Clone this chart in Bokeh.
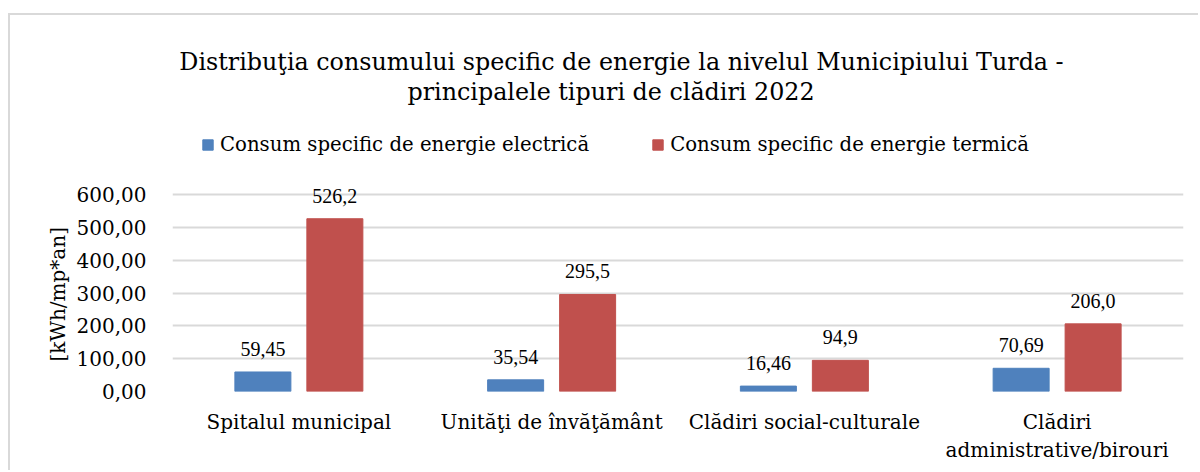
from bokeh.plotting import figure
from bokeh.models import ColumnDataSource, FactorRange, Range1d, Label, LabelSet, Legend, LegendItem, FixedTicker, CustomJSTickFormatter, Title
from bokeh.transform import dodge
from bokeh.embed import file_html
from bokeh.resources import INLINE

# ---- data ----
categories = ["Spitalul municipal", "Unităţi de învăţământ", "Clădiri social-culturale",
              "Clădiri\nadministrative/birouri"]
electric = [59.45, 35.54, 16.46, 70.69]
thermal = [526.2, 295.5, 94.9, 206.0]
series_names = ["Consum specific de energie electrică", "Consum specific de energie termică"]
y_ticks = [0, 100, 200, 300, 400, 500, 600]
title_lines = ["Distribuţia consumului specific de energie la nivelul Municipiului Turda -",
               "principalele tipuri de clădiri 2022"]
y_label = "[kWh/mp*an]"

BLUE = "#4F81BD"
RED = "#C0504D"
GRID = "#d9d9d9"
FONT = "DejaVu Serif"

src = ColumnDataSource(dict(
    cat=categories,
    el=electric,
    th=thermal,
    el_lab=[f"{v:.2f}".replace(".", ",") for v in electric],
    th_lab=[f"{v:.1f}".replace(".", ",") for v in thermal],
))

p = figure(
    width=1190, height=457,
    x_range=FactorRange(factors=categories, range_padding=0),
    y_range=Range1d(0, 1130),
    output_backend="svg", toolbar_location=None,
    min_border_left=162, min_border_right=17, min_border_top=5, min_border_bottom=81,
    styles={"margin-left": "8px", "margin-top": "13px",
            "border-left": f"2px solid {GRID}", "border-top": f"2px solid {GRID}"},
)
p.outline_line_color = None

off = 0.1424
bw = 0.2216
r1 = p.vbar(x=dodge("cat", -off, range=p.x_range), top="el", width=bw, source=src,
            fill_color=BLUE, line_color=BLUE)
r2 = p.vbar(x=dodge("cat", off, range=p.x_range), top="th", width=bw, source=src,
            fill_color=RED, line_color=RED)

for field, top, o in (("el_lab", "el", -off), ("th_lab", "th", off)):
    p.add_layout(LabelSet(x=dodge("cat", o, range=p.x_range), y=top, text=field, source=src,
                          text_align="center", text_baseline="alphabetic", y_offset=16,
                          text_font=FONT, text_font_size="20px", text_color="#000000"))

# axes
p.yaxis.ticker = FixedTicker(ticks=y_ticks)
p.yaxis.formatter = CustomJSTickFormatter(code="return tick.toFixed(2).replace('.', ',');")
p.yaxis.axis_line_color = None
p.yaxis.major_tick_line_color = None
p.yaxis.minor_tick_line_color = None
p.yaxis.major_label_standoff = 20
p.yaxis.major_label_text_font = FONT
p.yaxis.major_label_text_font_size = "20px"
p.yaxis.major_label_text_color = "#000000"

p.xaxis.axis_line_color = None
p.xaxis.major_tick_line_color = None
p.xaxis.minor_tick_line_color = None
p.xaxis.major_label_standoff = 12
p.xaxis.major_label_text_font = FONT
p.xaxis.major_label_text_font_size = "20px"
p.xaxis.major_label_text_color = "#000000"
p.xaxis.major_label_orientation = "horizontal"

p.xgrid.grid_line_color = None
p.ygrid.grid_line_color = GRID
p.ygrid.grid_line_width = 2

# y axis title, placed beside the axis
p.add_layout(Title(text=y_label, align="left", offset=30, standoff=8,
                   text_font=FONT, text_font_size="20px", text_font_style="normal",
                   text_color="#000000"), "left")

legend = Legend(items=[LegendItem(label=series_names[0], renderers=[r1]),
                       LegendItem(label=series_names[1], renderers=[r2])],
                location=(29, 235.5), orientation="horizontal",
                glyph_width=13, glyph_height=13, label_standoff=6, spacing=62,
                padding=0, margin=0, border_line_color=None, background_fill_alpha=0,
                label_text_font=FONT, label_text_font_size="19.7px", label_text_color="#000000",
                label_height=20)
p.add_layout(legend, "center")

# chart title (two centred lines, screen units from the plot frame's bottom-left)
for txt, sx, sy in ((title_lines[0], 449, 330), (title_lines[1], 438.5, 300)):
    p.add_layout(Label(x=sx, y=sy, x_units="screen", y_units="screen", text=txt,
                       text_align="center", text_baseline="alphabetic",
                       text_font=FONT, text_font_size="23.8px", text_color="#000000"))

open("out.html", "w").write(file_html(p, INLINE))
